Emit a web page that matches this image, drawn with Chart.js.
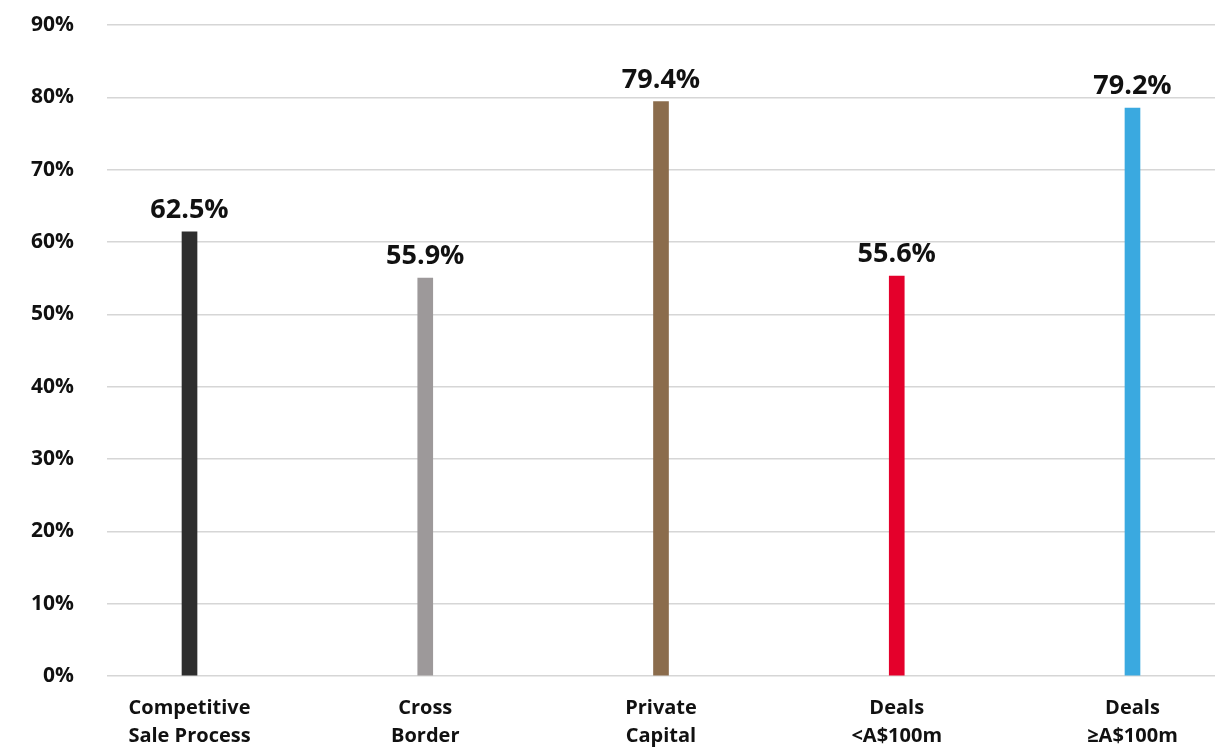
<!DOCTYPE html>
<html>
<head>
<meta charset="utf-8">
<script src="https://cdn.jsdelivr.net/npm/chart.js@4"></script>
<style>
  html, body { margin: 0; padding: 0; background: #fff; }
  #chart { display: block; }
</style>
</head>
<body>
<canvas id="chart" width="1217" height="747"></canvas>
<script>
// ── Data ──────────────────────────────────────────────────────────────────────

const categories = [
  ["Competitive", "Sale Process"],
  ["Cross", "Border"],
  ["Private", "Capital"],
  ["Deals", "<A$100m"],
  ["Deals", "≥A$100m"],
];
// bar heights as drawn (%)
const barValues = [61.4, 55.0, 79.4, 55.3, 78.5];
// printed value labels
const valueLabels = ["62.5%", "55.9%", "79.4%", "55.6%", "79.2%"];
const barColors = ["#2e2e2e", "#9d999a", "#8b6c4c", "#e4002b", "#3aa9e0"];
const yTicks = [0, 10, 20, 30, 40, 50, 60, 70, 80, 90];

const FONT = "'Open Sans', Lato, sans-serif";

// ── Value labels above bars ───────────────────────────────────────────────────

const valueLabelPlugin = {
  id: "valueLabels",
  afterDatasetsDraw(chart) {
    const { ctx } = chart;
    const meta = chart.getDatasetMeta(0);
    ctx.save();
    ctx.font = `bold 27px ${FONT}`;
    ctx.fillStyle = "#111";
    ctx.textAlign = "center";
    ctx.textBaseline = "alphabetic";
    meta.data.forEach((bar, i) => {
      ctx.fillText(valueLabels[i], bar.x, bar.y - 14);
    });
    ctx.restore();
  },
};

// ── Chart ─────────────────────────────────────────────────────────────────────

new Chart(document.getElementById("chart"), {
  type: "bar",
  data: {
    datasets: [{
      data: barValues.map((v, i) => ({ x: i, y: v })),
      backgroundColor: barColors,
      barThickness: 15,
      borderWidth: 0,
    }],
  },
  options: {
    responsive: false,
    animation: false,
    layout: { padding: { top: 25, right: 2, bottom: 0, left: 0 } },
    plugins: {
      legend: { display: false },
      tooltip: { enabled: false },
    },
    scales: {
      x: {
        type: "linear",
        offset: false,
        min: -0.35,
        max: 4.35,
        afterBuildTicks: s => { s.ticks = categories.map((_, i) => ({ value: i })); },
        afterFit: s => { s.height = 71; },
        grid: { display: false },
        border: { display: false },
        ticks: {
          color: "#111",
          font: { family: FONT, size: 20, weight: "bold", lineHeight: 1.4 },
          padding: 10,
          maxRotation: 0,
          autoSkip: false,
          callback: v => categories[v],
        },
      },
      y: {
        min: 0,
        max: 90,
        afterBuildTicks: s => { s.ticks = yTicks.map(v => ({ value: v })); },
        afterFit: s => { s.width = 107; s.paddingTop = 0; s.paddingBottom = 0; },
        grid: { color: "#d6d6d6", lineWidth: 1.5, drawTicks: false },
        border: { display: false },
        ticks: {
          color: "#111",
          font: { family: FONT, size: 21, weight: "bold" },
          padding: 33,
          callback: v => `${v}%`,
        },
      },
    },
  },
  plugins: [valueLabelPlugin],
});
</script>
</body>
</html>
